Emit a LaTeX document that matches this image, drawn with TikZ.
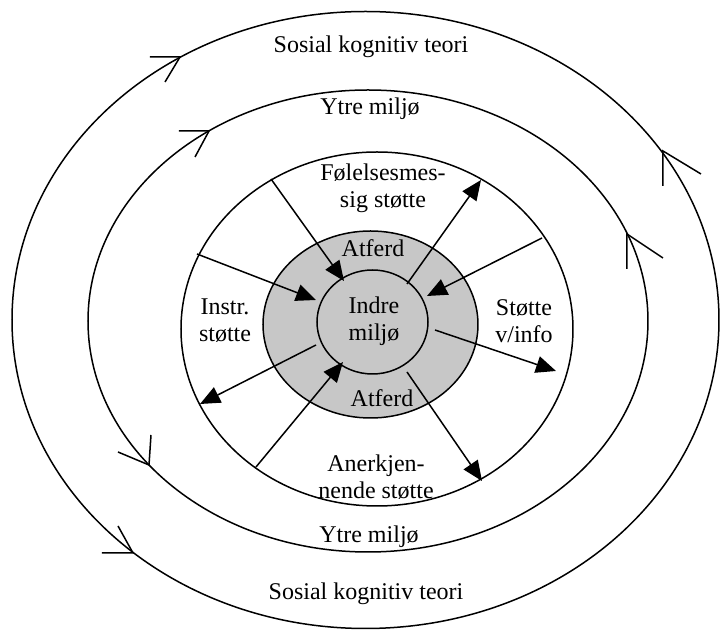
\documentclass[tikz,border=0pt]{standalone}
\usepackage{fontspec}
\setmainfont{Liberation Serif}
\usetikzlibrary{arrows.meta}
\begin{document}
\begin{tikzpicture}[x=0.5pt,y=-0.5pt,
  ring/.style={line width=0.75pt},
  arr/.style={line width=0.75pt,-{Triangle[length=10pt,width=8.5pt]}},
  barb/.style={line width=0.75pt},
  lbl/.style={font=\fontsize{12}{13.5}\selectfont, align=center, inner sep=0pt}]
\useasboundingbox (0,0) rectangle (720,630);
% ellipses
\draw[ring] (365.5,320) ellipse [x radius=176.75pt, y radius=154.25pt];
\draw[ring] (368,321) ellipse [x radius=140pt, y radius=115.5pt];
\draw[ring] (377,329) ellipse [x radius=98pt, y radius=88.5pt];
\draw[ring, fill=black!22] (370.5,324.5) ellipse [x radius=53.75pt, y radius=46.75pt];
\draw[ring, fill=black!22] (372.5,322) ellipse [x radius=27.75pt, y radius=26pt];
% open arrowheads on outer ellipse
\coordinate (va) at (180,57);  \coordinate (a1) at (150,57);  \coordinate (a2) at (165,82);
\coordinate (vb) at (663,151); \coordinate (b1) at (663,186); \coordinate (b2) at (701,174);
\coordinate (vc) at (133,553); \coordinate (c1) at (102,553); \coordinate (c2) at (118,526);
\draw[barb] (a1) -- (va) -- (a2);
\draw[barb] (b1) -- (vb) -- (b2);
\draw[barb] (c1) -- (vc) -- (c2);
% open arrowheads on second ellipse
\coordinate (vd) at (209,131); \coordinate (d1) at (179,131); \coordinate (d2) at (195,157);
\coordinate (ve) at (627,234); \coordinate (e1) at (627,269); \coordinate (e2) at (663,258);
\coordinate (vf) at (149,465); \coordinate (f1) at (151,435); \coordinate (f2) at (118,452);
\draw[barb] (d1) -- (vd) -- (d2);
\draw[barb] (e1) -- (ve) -- (e2);
\draw[barb] (f1) -- (vf) -- (f2);
% radial arrows
\coordinate (s1) at (271,179); \coordinate (t1) at (344,281);
\coordinate (s2) at (197,254); \coordinate (t2) at (316,300);
\coordinate (s3) at (407,284); \coordinate (t3) at (481,180);
\coordinate (s4) at (542,238); \coordinate (t4) at (427,296);
\coordinate (s5) at (435,330); \coordinate (t5) at (556,371);
\coordinate (s6) at (316,345); \coordinate (t6) at (200,404);
\coordinate (s7) at (256,467); \coordinate (t7) at (343,362);
\coordinate (s8) at (407,372); \coordinate (t8) at (482,481);
\foreach \i in {1,...,8} {\draw[arr] (s\i) -- (t\i);}
% labels
\node[lbl] (sosTop) at (371,47) {Sosial kognitiv teori};
\node[lbl] (ytreTop) at (370,109) {Ytre miljø};
\node[lbl] (fol) at (383,188) {Følelsesmes-\\sig støtte};
\node[lbl] (atfTop) at (373,248) {Atferd};
\node[lbl] (indre) at (374,321) {Indre\\miljø};
\node[lbl] (instr) at (225,321) {Instr.\\støtte};
\node[lbl] (stv) at (524,321) {Støtte\\v/info};
\node[lbl] (atfBot) at (382,398) {Atferd};
\node[lbl] (aner) at (376,477) {Anerkjen-\\nende støtte};
\node[lbl] (ytreBot) at (369,537) {Ytre miljø};
\node[lbl] (sosBot) at (366,594) {Sosial kognitiv teori};
\end{tikzpicture}
\end{document}
